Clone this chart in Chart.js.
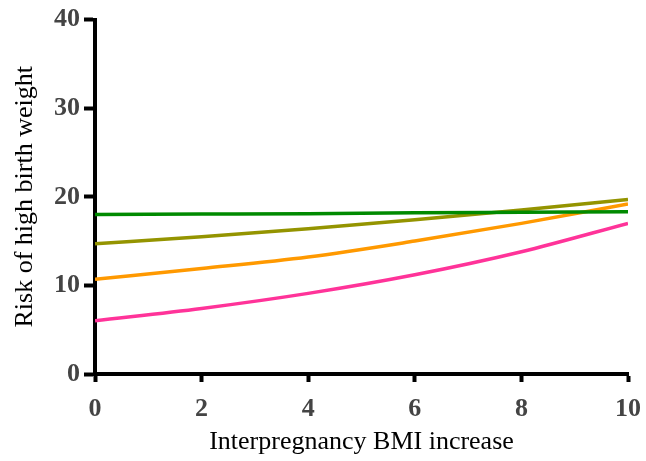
<!DOCTYPE html>
<html>
<head>
<meta charset="utf-8">
<script src="https://cdn.jsdelivr.net/npm/chart.js@4"></script>
<style>
  html, body { margin: 0; padding: 0; background: #fff; }
  #wrap { width: 646px; height: 461px; }
</style>
</head>
<body>
<div id="wrap"><canvas id="c"></canvas></div>
<script>
"use strict";

// BMI increase (x) and risk values
const xs = [0, 2, 4, 6, 8, 10];
const green = [18.0, 18.05, 18.1, 18.2, 18.25, 18.3];
const olive = [14.7, 15.5, 16.4, 17.4, 18.5, 19.7];
const orange = [10.7, 11.9, 13.2, 15.0, 17.0, 19.2];
const pink = [6.0, 7.4, 9.1, 11.2, 13.8, 17.0];

const COLORS = { green: "#008a00", olive: "#949400", orange: "#ff9900", pink: "#ff3399" };

function series(vals, color) {
  return {
    data: xs.map((x, i) => ({ x, y: vals[i] })),
    borderColor: color, backgroundColor: color, borderWidth: 3.5,
    pointRadius: 0, cubicInterpolationMode: "monotone",
  };
}

const tickFont = { family: "Liberation Serif", size: 26, weight: "bold" };
const titleFont = { family: "Liberation Serif", size: 26 };

new Chart(document.getElementById("c"), {
  type: "line",
  data: {
    datasets: [
      series(green, COLORS.green),
      series(olive, COLORS.olive),
      series(orange, COLORS.orange),
      series(pink, COLORS.pink),
    ],
  },
  options: {
    responsive: true,
    maintainAspectRatio: false,
    animation: false,
    layout: { padding: { top: 4, right: 18, left: 10, bottom: 3 } },
    plugins: { legend: { display: false }, tooltip: { enabled: false } },
    scales: {
      x: {
        type: "linear", min: 0, max: 10,
        afterFit: (axis) => { axis.height = 84; axis.paddingRight = 0; axis.paddingLeft = 0; },
        ticks: { stepSize: 2, color: "#444", font: tickFont, padding: 12 },
        grid: { drawOnChartArea: false, tickLength: 8, tickWidth: 4, tickColor: "#000" },
        border: { color: "#000", width: 4 },
        title: { display: true, text: "Interpregnancy BMI increase", color: "#000", font: titleFont, padding: 0 },
      },
      y: {
        min: 0, max: 40,
        afterFit: (axis) => { axis.width = 85; },
        ticks: { stepSize: 10, color: "#444", font: tickFont, padding: 4 },
        grid: { drawOnChartArea: false, tickLength: 11, tickWidth: 4, tickColor: "#000" },
        border: { color: "#000", width: 4 },
        title: { display: true, text: "Risk of high birth weight", color: "#000", font: titleFont, padding: 0 },
      },
    },
  },
});
</script>
</body>
</html>
